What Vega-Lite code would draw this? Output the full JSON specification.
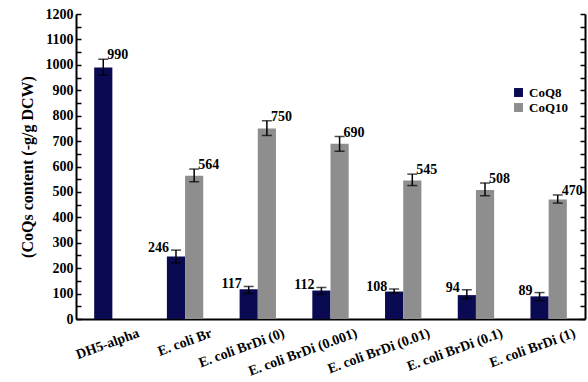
{
  "$schema": "https://vega.github.io/schema/vega-lite/v6.json",
  "width": 509,
  "height": 305,
  "autosize": {"type": "none"},
  "padding": {"left": 76, "top": 14, "right": 3, "bottom": 63},
  "config": {
    "font": "Liberation Serif",
    "view": {"stroke": null},
    "axis": {"grid": false, "domainColor": "#000", "domainWidth": 2, "tickColor": "#000", "labelColor": "#000", "titleColor": "#000", "labelFont": "Liberation Serif", "titleFont": "Liberation Serif", "labelFontWeight": "bold", "titleFontWeight": "bold"}
  },
  "data": {
    "values": [
      {"strain": "DH5-alpha", "series": "CoQ8", "value": 990, "lo": 960, "hi": 1022},
      {"strain": "E. coli Br", "series": "CoQ8", "value": 246, "lo": 220, "hi": 271},
      {"strain": "E. coli Br", "series": "CoQ10", "value": 564, "lo": 540, "hi": 590},
      {"strain": "E. coli BrDi (0)", "series": "CoQ8", "value": 117, "lo": 100, "hi": 128},
      {"strain": "E. coli BrDi (0)", "series": "CoQ10", "value": 750, "lo": 722, "hi": 780},
      {"strain": "E. coli BrDi (0.001)", "series": "CoQ8", "value": 112, "lo": 97, "hi": 124},
      {"strain": "E. coli BrDi (0.001)", "series": "CoQ10", "value": 690, "lo": 660, "hi": 718},
      {"strain": "E. coli BrDi (0.01)", "series": "CoQ8", "value": 108, "lo": 102, "hi": 118},
      {"strain": "E. coli BrDi (0.01)", "series": "CoQ10", "value": 545, "lo": 525, "hi": 570},
      {"strain": "E. coli BrDi (0.1)", "series": "CoQ8", "value": 94, "lo": 80, "hi": 115},
      {"strain": "E. coli BrDi (0.1)", "series": "CoQ10", "value": 508, "lo": 485, "hi": 535},
      {"strain": "E. coli BrDi (1)", "series": "CoQ8", "value": 89, "lo": 72, "hi": 104},
      {"strain": "E. coli BrDi (1)", "series": "CoQ10", "value": 470, "lo": 456, "hi": 488}
    ]
  },
  "encoding": {
    "x": {
      "field": "strain", "type": "nominal",
      "sort": ["DH5-alpha", "E. coli Br", "E. coli BrDi (0)", "E. coli BrDi (0.001)", "E. coli BrDi (0.01)", "E. coli BrDi (0.1)", "E. coli BrDi (1)"],
      "scale": {"paddingInner": 0.5, "paddingOuter": 0.25},
      "axis": {"title": null, "ticks": false, "labels": false}
    }
  },
  "layer": [
    {
      "mark": {"type": "bar"},
      "encoding": {
        "xOffset": {"field": "series", "type": "nominal", "sort": ["CoQ8", "CoQ10"]},
        "y": {
          "field": "value", "type": "quantitative",
          "scale": {"domain": [0, 1200], "nice": false},
          "axis": {
            "title": "(CoQs content (-g/g DCW)", "titleFontSize": 16, "titlePadding": 10,
            "values": [0,50,100,150,200,250,300,350,400,450,500,550,600,650,700,750,800,850,900,950,1000,1050,1100,1150,1200],
            "format": "d",
            "labelExpr": "datum.value % 100 == 0 ? datum.label : ''",
            "labelFontSize": 14, "tickSize": -5, "tickWidth": 1.5, "labelPadding": 8
          }
        },
        "color": {
          "field": "series", "type": "nominal",
          "scale": {"domain": ["CoQ8", "CoQ10"], "range": ["#0a0a52", "#8e8e8e"]},
          "legend": {"title": null, "orient": "none", "legendX": 436, "legendY": 72, "symbolType": "square", "symbolSize": 80, "symbolStrokeWidth": 0, "labelFontSize": 13, "labelFontWeight": "bold", "labelFont": "Liberation Serif", "rowPadding": 1}
        }
      }
    },
    {
      "mark": {"type": "rule", "color": "#000", "strokeWidth": 1.5},
      "encoding": {
        "xOffset": {"field": "series", "type": "nominal", "sort": ["CoQ8", "CoQ10"]},
        "y": {
          "field": "lo", "type": "quantitative",
          "scale": {"domain": [0, 1200], "nice": false},
          "axis": {"orient": "right", "title": null, "labels": false, "values": [0,50,100,150,200,250,300,350,400,450,500,550,600,650,700,750,800,850,900,950,1000,1050,1100,1150,1200], "tickSize": -5, "tickWidth": 1.5}
        },
        "y2": {"field": "hi"}
      }
    },
    {
      "mark": {"type": "tick", "color": "#000", "thickness": 1.5, "size": 10, "orient": "horizontal"},
      "encoding": {
        "xOffset": {"field": "series", "type": "nominal", "sort": ["CoQ8", "CoQ10"]},
        "y": {"field": "lo", "type": "quantitative", "scale": {"domain": [0, 1200], "nice": false}, "axis": null}
      }
    },
    {
      "mark": {"type": "tick", "color": "#000", "thickness": 1.5, "size": 10, "orient": "horizontal"},
      "encoding": {
        "xOffset": {"field": "series", "type": "nominal", "sort": ["CoQ8", "CoQ10"]},
        "y": {"field": "hi", "type": "quantitative", "scale": {"domain": [0, 1200], "nice": false}, "axis": null}
      }
    },
    {
      "transform": [{"filter": "datum.series == 'CoQ10' || datum.strain == 'DH5-alpha'"}],
      "mark": {"type": "text", "align": "left", "baseline": "bottom", "dx": 4, "dy": 3, "fontSize": 14, "fontWeight": "bold", "font": "Liberation Serif", "color": "#000"},
      "encoding": {
        "xOffset": {"field": "series", "type": "nominal", "sort": ["CoQ8", "CoQ10"]},
        "y": {"field": "hi", "type": "quantitative", "scale": {"domain": [0, 1200], "nice": false}, "axis": null},
        "text": {"field": "value", "type": "quantitative"}
      }
    },
    {
      "transform": [{"filter": "datum.series == 'CoQ8' && datum.strain != 'DH5-alpha'"}],
      "mark": {"type": "text", "align": "right", "baseline": "middle", "dx": -7, "dy": -2, "fontSize": 14, "fontWeight": "bold", "font": "Liberation Serif", "color": "#000"},
      "encoding": {
        "xOffset": {"field": "series", "type": "nominal", "sort": ["CoQ8", "CoQ10"]},
        "y": {"field": "hi", "type": "quantitative", "scale": {"domain": [0, 1200], "nice": false}, "axis": null},
        "text": {"field": "value", "type": "quantitative"}
      }
    },
    {
      "transform": [{"filter": "datum.series == 'CoQ8'"}],
      "mark": {"type": "text", "angle": -20, "align": "right", "baseline": "top", "dx": 20, "dy": 15, "fontSize": 14, "fontWeight": "bold", "font": "Liberation Serif", "color": "#000"},
      "encoding": {
        "y": {"datum": 0, "type": "quantitative", "scale": {"domain": [0, 1200], "nice": false}, "axis": null},
        "text": {"field": "strain", "type": "nominal"}
      }
    }
  ],
  "resolve": {"scale": {"y": "independent"}}
}
